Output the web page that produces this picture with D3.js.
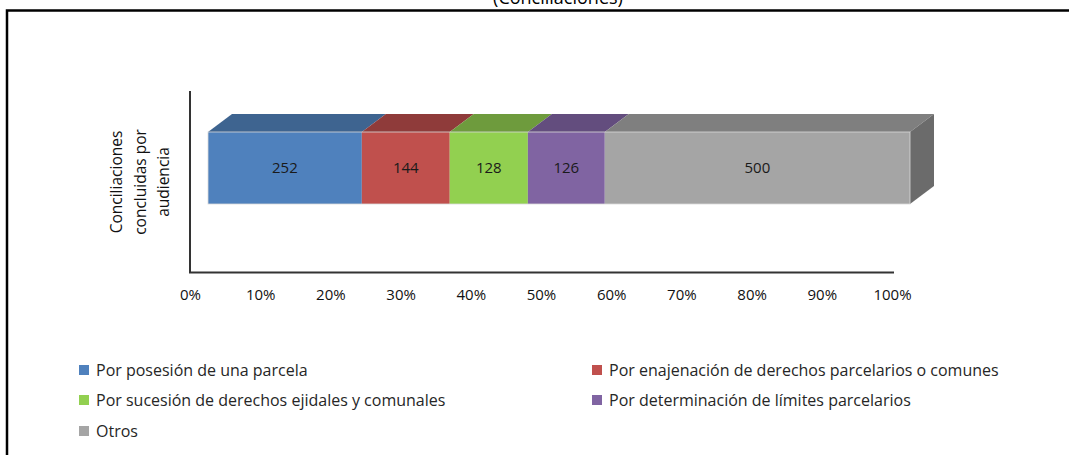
<!DOCTYPE html>
<html><head><meta charset="utf-8">
<script src="https://cdn.jsdelivr.net/npm/d3@7"></script>
<style>html,body{margin:0;padding:0;background:#fff;}svg{display:block;}</style>
</head><body>
<svg id="c" width="1069" height="455"></svg>
<script>
const categories = ["Conciliaciones concluidas por audiencia"];
const seriesNames = [
  "Por posesión de una parcela",
  "Por enajenación de derechos parcelarios o comunes",
  "Por sucesión de derechos ejidales y comunales",
  "Por determinación de límites parcelarios",
  "Otros"
];
const seriesValues = [252, 144, 128, 126, 500];
const frontColors = ["#4f81bd", "#c0504d", "#92d050", "#8064a2", "#a5a5a5"];
const topColors = ["#3e6490", "#8f3b3a", "#6e9b3d", "#634d7e", "#7f7f7f"];
const sideColor = "#6b6b6b";
const tickValues = [0, 0.1, 0.2, 0.3, 0.4, 0.5, 0.6, 0.7, 0.8, 0.9, 1];
const title = "(Conciliaciones)";

const svg = d3.select("#c");
const font = "'Open Sans', 'Noto Sans', sans-serif";

// outer frame
svg.append("path").attr("d", "M7,460 V10.5 H1075").attr("fill", "none").attr("stroke", "#000").attr("stroke-width", 2.5);

svg.append("text").attr("x", 558).attr("y", 4).attr("text-anchor", "middle")
  .attr("font-family", font).attr("font-size", 18).attr("fill", "#000").text(title);

const x = d3.scaleLinear().domain([0, 1]).range([190, 892]);
const depthX = 24, depthY = -18, frontOff = 18;
const y = d3.scaleBand().domain(categories).range([132, 204]).padding(0);

const total = d3.sum(seriesValues);
let cum = 0;
const segs = seriesValues.map((v, i) => {
  const s = {i, v, p0: cum / total, p1: (cum + v) / total};
  cum += v; return s;
});
const cat = categories[0];
const yTop = y(cat), yBot = y(cat) + y.bandwidth();

// axis lines
svg.append("path").attr("d", `M${x(0)},91 V272.5 H${x(1) + 2}`).attr("fill", "none")
  .attr("stroke", "#333").attr("stroke-width", 2);

const g = svg.append("g");
// top faces
g.selectAll("path.top").data(segs).join("path").attr("class", "top")
  .attr("d", d => {
    const a = x(d.p0) + frontOff, b = x(d.p1) + frontOff;
    return `M${a},${yTop} L${b},${yTop} L${b + depthX},${yTop + depthY} L${a + depthX},${yTop + depthY} Z`;
  }).attr("fill", d => topColors[d.i]);
// side face
const last = segs[segs.length - 1];
const xr = x(last.p1) + frontOff;
g.append("path").attr("d", `M${xr},${yTop} L${xr + depthX},${yTop + depthY} L${xr + depthX},${yBot + depthY} L${xr},${yBot} Z`)
  .attr("fill", sideColor);
// front faces
g.selectAll("rect.front").data(segs).join("rect").attr("class", "front")
  .attr("x", d => x(d.p0) + frontOff).attr("y", yTop)
  .attr("width", d => x(d.p1) - x(d.p0)).attr("height", y.bandwidth())
  .attr("fill", d => frontColors[d.i]);
g.append("rect").attr("x", x(0) + frontOff).attr("y", yTop).attr("width", x(1) - x(0)).attr("height", y.bandwidth())
  .attr("fill", "none").attr("stroke", "#d9d9d9").attr("stroke-width", 0.8);
// value labels
g.selectAll("text.val").data(segs).join("text").attr("class", "val")
  .attr("x", d => (x(d.p0) + x(d.p1)) / 2 + frontOff).attr("y", (yTop + yBot) / 2)
  .attr("dy", "0.35em").attr("text-anchor", "middle")
  .attr("font-family", font).attr("font-size", 15).attr("fill", "#1a1a1a")
  .text(d => d.v);

// x axis ticks
const ax = svg.append("g").attr("transform", "translate(0,289)")
  .call(d3.axisBottom(x).tickValues(tickValues).tickFormat(d3.format(".0%")).tickSize(0).tickPadding(0));
ax.select(".domain").remove();
ax.selectAll("text").attr("font-family", font).attr("font-size", 15).attr("fill", "#111").attr("dy", "0.7em");

// y title
const yl = ["Conciliaciones", "concluidas por", "audiencia"];
const yt = svg.append("text").attr("transform", "translate(117,182) rotate(-90)")
  .attr("text-anchor", "middle").attr("font-family", font).attr("font-size", 15.5).attr("fill", "#111");
yl.forEach((t, i) => yt.append("tspan").attr("x", 0).attr("y", i * 23.5).attr("dy", "0.35em").text(t));

// legend
const legPos = [[79, 370], [592, 370], [79, 400], [592, 400], [79, 431]];
const lg = svg.append("g").selectAll("g").data(seriesNames).join("g")
  .attr("transform", (d, i) => `translate(${legPos[i][0]},${legPos[i][1]})`);
lg.append("rect").attr("x", 0).attr("y", -5).attr("width", 10).attr("height", 10)
  .attr("fill", (d, i) => frontColors[i]);
lg.append("text").attr("x", 17).attr("y", 0).attr("dy", "0.35em")
  .attr("font-family", font).attr("font-size", 16).attr("fill", "#262626").text(d => d);
</script>
</body></html>
